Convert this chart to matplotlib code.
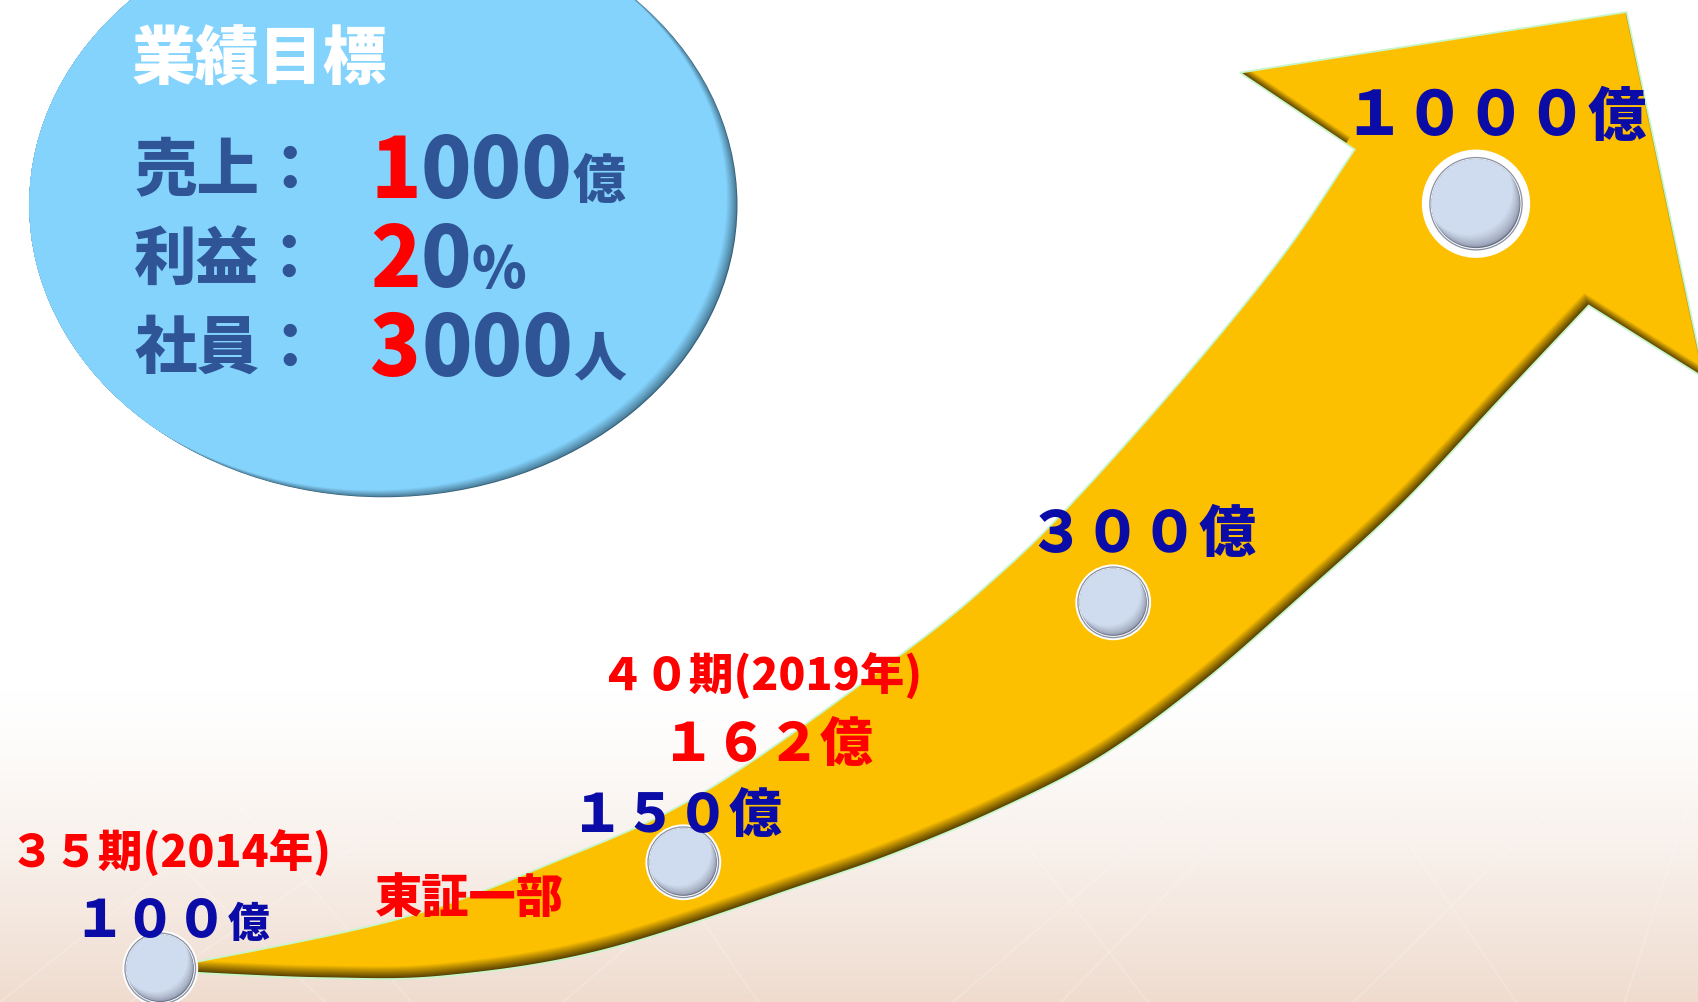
import numpy as np
import matplotlib
matplotlib.use("Agg")
import matplotlib.pyplot as plt
from matplotlib.patches import Ellipse, Circle, Polygon
import matplotlib.colors as mcolors

plt.rcParams['font.family'] = ['Noto Sans CJK JP', 'DejaVu Sans']

# ---------------- data ----------------
title = "業績目標"
goal_labels = ["売上：", "利益：", "社員："]
goal_values = ["1000", "20", "3000"]
goal_units = ["億", "%", "人"]
milestone_values = [100, 150, 300, 1000]     # 億
milestone_unit = "億"
actual_2019 = 162
period_labels = ["３５期(2014年)", "４０期(2019年)"]
event_label = "東証一部"

# ---------------- canvas ----------------
W, H = 1568, 926
fig = plt.figure(figsize=(16.98, 10.03), dpi=100)
ax = fig.add_axes([0, 0, 1, 1])
ax.set_xlim(0, W)
ax.set_ylim(H, 0)
ax.axis('off')
renderer = fig.canvas.get_renderer()
PX2DATA = W / 1698.0
WT = 900

FW = str.maketrans("0123456789", "０１２３４５６７８９")

def fw(v):
    return str(v).translate(FW)

def lerp_col(c1, c2, t):
    a = np.array(mcolors.to_rgb(c1)); b = np.array(mcolors.to_rgb(c2))
    return tuple(a + (b - a) * t)

# background gradient
ys = np.linspace(0, H, 400)
t = np.clip((ys - 640) / (H - 640), 0, 1) ** 1.3
top = np.array([1, 1, 1]); bot = np.array(mcolors.to_rgb('#efdccf'))
grad = top[None, :] * (1 - t[:, None]) + bot[None, :] * t[:, None]
ax.imshow(grad[:, None, :].repeat(2, axis=1), extent=[0, W, H, 0], aspect='auto', zorder=0)
# faint net texture
for x0, x1 in [(0, 260), (120, 420), (380, 200), (520, 760), (700, 560), (880, 1120),
               (1060, 900), (1250, 1460), (1400, 1260), (1500, 1568), (300, 80), (980, 1180)]:
    ax.plot([x0, x1], [H, 720], color='white', alpha=0.2, lw=1.2, zorder=0.5)

# ---------------- ellipse with inner rim shadow ----------------
ecx, ecy, ew, eh = 354, 190, 654, 540
base = Ellipse((ecx, ecy), ew, eh, facecolor='#34607a', edgecolor='none', zorder=1)
ax.add_patch(base)
shifts = np.linspace(1, 11, 11)
for i, s in enumerate(shifts):
    col = lerp_col('#467690', '#84d3fd', ((i + 1) / len(shifts)) ** 0.9)
    e = Ellipse((ecx - s * 0.9, ecy - s * 0.6), ew, eh, facecolor=col, edgecolor='none', zorder=1.1 + i * 0.01)
    ax.add_patch(e)
    e.set_clip_path(base)

ax.text(122, 56, title, color='white', fontsize=46, fontweight=WT, ha='left', va='center', zorder=5)

def seq_text(x, y, parts, zorder=5):
    for s, col, size in parts:
        tx = ax.text(x, y, s, color=col, fontsize=size, fontweight=WT, ha='left', va='baseline', zorder=zorder)
        bb = tx.get_window_extent(renderer)
        x += bb.width * PX2DATA

BLUE_T = '#2f5597'
row_y = [158, 240, 322]
row_base = [183, 265, 347]
for lab, val, unit, yc, yb in zip(goal_labels, goal_values, goal_units, row_y, row_base):
    ax.text(124, yc, lab, color=BLUE_T, fontsize=45, fontweight=WT, ha='left', va='center', zorder=5)
    usz = 40 if unit == "%" else 38
    seq_text(342, yb, [(val[0], '#ff0000', 60), (val[1:], BLUE_T, 60), (unit, BLUE_T, usz)])

# ---------------- arrow ----------------
def catmull(pts, n=24):
    p = np.asarray(pts, float)
    p = np.vstack([2 * p[0] - p[1], p, 2 * p[-1] - p[-2]])
    out = []
    for i in range(1, len(p) - 2):
        p0, p1, p2, p3 = p[i - 1], p[i], p[i + 1], p[i + 2]
        for tt in np.linspace(0, 1, n, endpoint=False):
            t2, t3 = tt * tt, tt * tt * tt
            out.append(0.5 * ((2 * p1) + (-p0 + p2) * tt + (2 * p0 - 5 * p1 + 4 * p2 - p3) * t2 + (-p0 + 3 * p1 - 3 * p2 + p3) * t3))
    out.append(p[-2])
    return np.array(out)

upper_edge = [(150, 893), (181, 889), (369, 849), (511, 797), (652, 731), (835, 603), (923, 531),
              (994, 461), (1097, 345), (1186, 235), (1251, 139)]
head = [(1145, 68), (1502, 12), (1574, 350), (1467, 283)]
lower_edge = [(1467, 283), (1385, 370), (1293, 468), (1200, 553), (1108, 633), (1016, 700), (923, 748),
              (831, 787), (746, 817), (558, 878), (412, 902), (300, 904), (181, 899), (150, 896)]
poly = np.vstack([catmull(upper_edge), np.array(head), catmull(lower_edge)])

arrow_base = Polygon(poly, closed=True, facecolor='#4a3700', edgecolor='none', zorder=2)
ax.add_patch(arrow_base)
nsh = 12
for i in range(nsh):
    s = 1.2 + i * 0.95
    col = lerp_col('#5a4300', '#fdc000', ((i + 1) / nsh) ** 1.1)
    pg = Polygon(poly + np.array([-0.35 * s, -s]), closed=True, facecolor=col, edgecolor='none', zorder=2.1 + i * 0.01)
    ax.add_patch(pg)
    pg.set_clip_path(arrow_base)
ax.add_patch(Polygon(poly, closed=True, facecolor='none', edgecolor='#c8f6c8', lw=1.3, zorder=2.5))

# ---------------- markers ----------------
def marker(cx, cy, r_out, r_in):
    ax.add_patch(Circle((cx, cy), r_out, facecolor='white', edgecolor='none', zorder=6))
    ax.add_patch(Circle((cx, cy), r_in + 2.2, facecolor='#8d93a2', edgecolor='none', zorder=6.1))
    ax.add_patch(Circle((cx, cy), r_in + 1.0, facecolor='#f4f6fa', edgecolor='none', zorder=6.2))
    b = Circle((cx, cy), r_in, facecolor='#6c7387', edgecolor='none', zorder=6.3)
    ax.add_patch(b)
    n = 10
    for i in range(n):
        s = r_in * 0.03 * (i + 1)
        col = lerp_col('#858ca0', '#cfdbee', ((i + 1) / n) ** 0.6)
        c = Circle((cx - s * 0.6, cy - s), r_in, facecolor=col, edgecolor='none', zorder=6.4 + i * 0.01)
        ax.add_patch(c)
        c.set_clip_path(b)

marker_pos = [(148, 895), (631, 797), (1028, 557), (1363, 189)]
marker_r = [(35, 31), (35, 31), (35, 31), (50, 41)]
for (cx, cy), (ro, ri) in zip(marker_pos, marker_r):
    marker(cx, cy, ro, ri)

# ---------------- milestone labels ----------------
NAVY = '#0b0ba8'
RED = '#ff0000'
ms_layout = [  # x, baseline, digit size, unit size
    (68, 865, 37, 30),
    (527, 768, 38, 38),
    (949, 510, 41, 41),
    (1240, 125, 44, 42),
]
for v, (x, yb, ds, us) in zip(milestone_values, ms_layout):
    seq_text(x, yb, [(fw(v), NAVY, ds), (milestone_unit, NAVY, us)], zorder=7)

seq_text(611, 703, [(fw(actual_2019), RED, 38), (milestone_unit, RED, 38)], zorder=7)

for lab, (x, yb) in zip(period_labels, [(9, 800), (554, 637)]):
    ax.text(x, yb, lab, color=RED, fontsize=32, fontweight=WT, ha='left', va='baseline', zorder=7)

ax.text(346, 843, event_label, color=RED, fontsize=34, fontweight=WT, ha='left', va='baseline', zorder=7)

fig.savefig("out.png", dpi=100)
